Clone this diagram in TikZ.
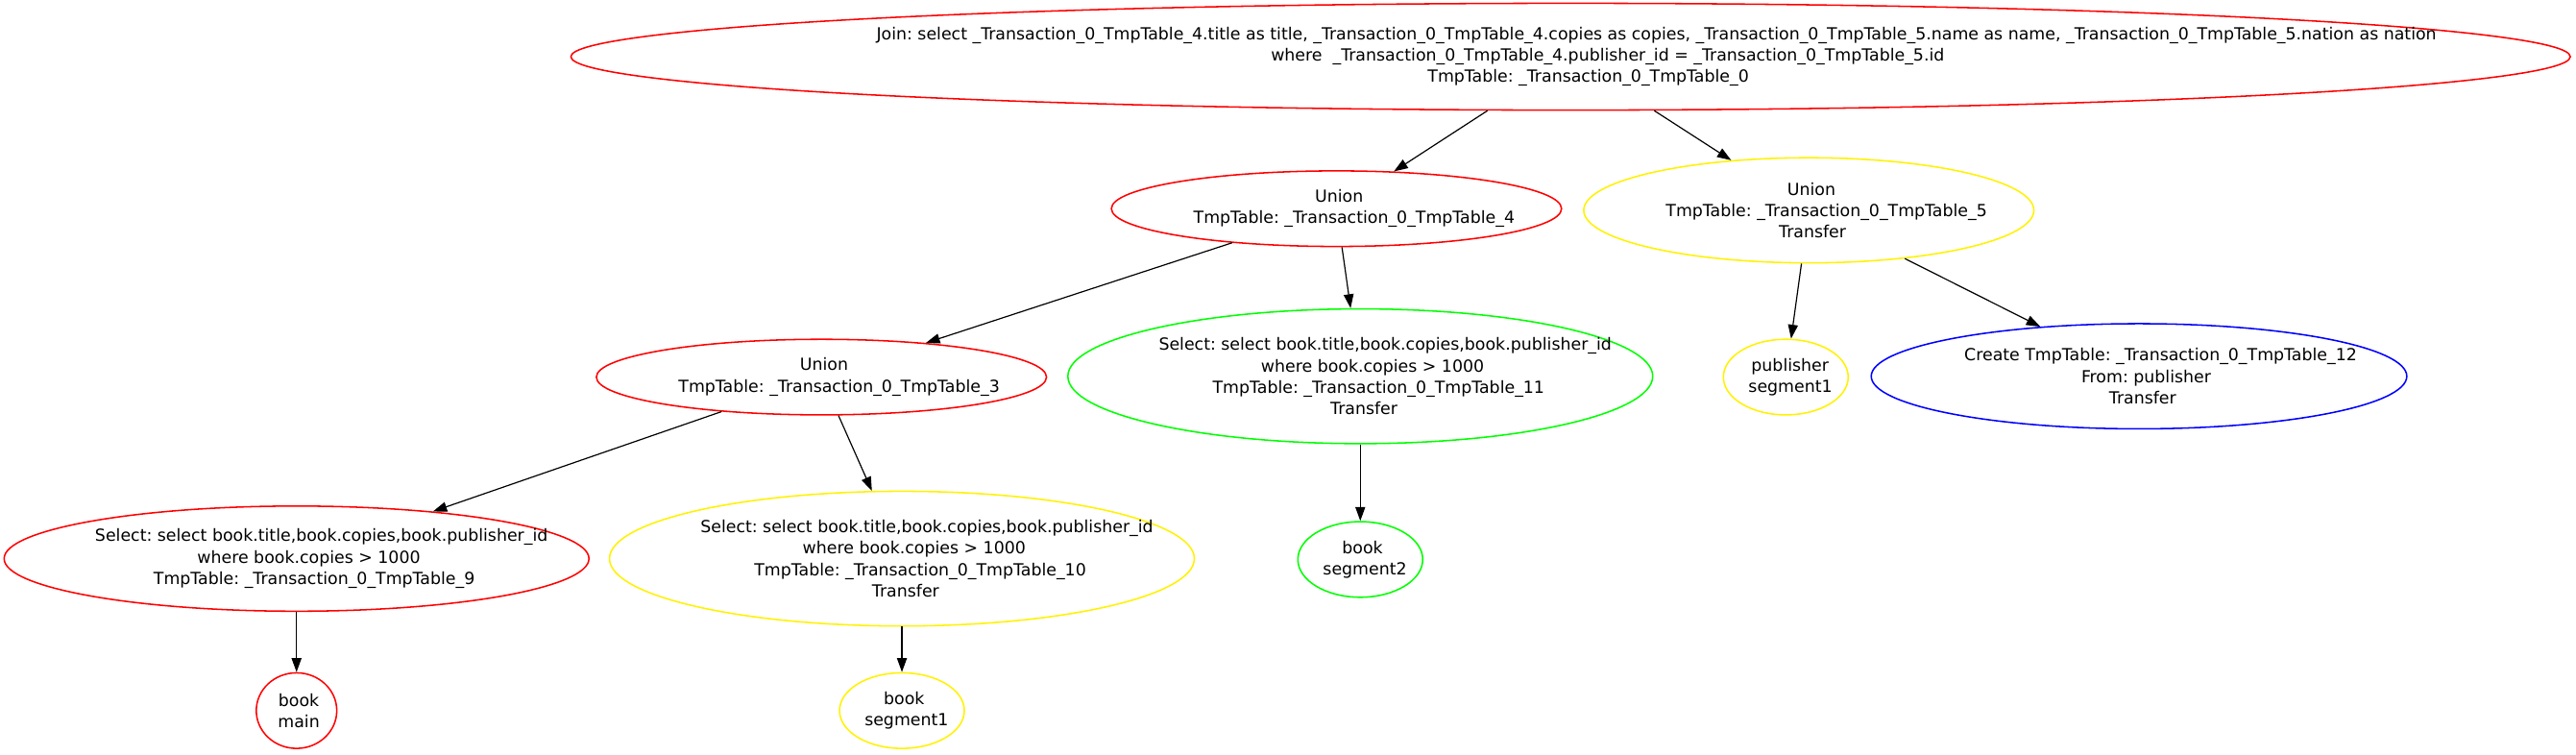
\documentclass[tikz,border=0pt]{standalone}
\usepackage{fontspec}
\setmainfont{DejaVu Sans}
\usetikzlibrary{shapes.geometric,arrows.meta}
\frenchspacing
\newcommand\gvl[1]{\setbox0\hbox{#1}\hbox to 0pt{\hss\kern0.11\wd0\box0\hss}}
\begin{document}
\begin{tikzpicture}[x=1pt,y=-1pt,
  gv/.style={ellipse,draw,line width=0.9pt,inner sep=0pt,align=center,
    font=\fontsize{10.15}{13}\selectfont\frenchspacing,text=black},
  arr/.style={-{Triangle[length=8.5pt,width=6pt]},line width=0.7pt,draw=black}]
\useasboundingbox (0,0) rectangle (1568,459);
\node[gv,draw=red,minimum width=1217pt,minimum height=65pt] (join) at (956,34.5)
  {\gvl{Join: select \_Transaction\_0\_TmpTable\_4.title as title, \_Transaction\_0\_TmpTable\_4.copies as copies, \_Transaction\_0\_TmpTable\_5.name as name, \_Transaction\_0\_TmpTable\_5.nation as nation}\\
   \gvl{where~~\_Transaction\_0\_TmpTable\_4.publisher\_id = \_Transaction\_0\_TmpTable\_5.id}\\
   \gvl{TmpTable: \_Transaction\_0\_TmpTable\_0}};
\node[gv,draw=red,minimum width=274pt,minimum height=46pt] (u4) at (813.5,127)
  {\gvl{Union}\\\gvl{TmpTable: \_Transaction\_0\_TmpTable\_4}};
\node[gv,draw=yellow,minimum width=274pt,minimum height=64pt] (u5) at (1101,128)
  {\gvl{Union}\\\gvl{TmpTable: \_Transaction\_0\_TmpTable\_5}\\\gvl{Transfer}};
\node[gv,draw=red,minimum width=274pt,minimum height=46pt] (u3) at (500,229.5)
  {\gvl{Union}\\\gvl{TmpTable: \_Transaction\_0\_TmpTable\_3}};
\node[gv,draw=green,minimum width=356pt,minimum height=82pt] (s11) at (828,229)
  {\gvl{Select: select book.title,book.copies,book.publisher\_id}\\\gvl{where book.copies > 1000}\\\gvl{TmpTable: \_Transaction\_0\_TmpTable\_11}\\\gvl{Transfer}};
\node[gv,draw=yellow,minimum width=76pt,minimum height=46pt] (pub) at (1087,229.5)
  {\gvl{publisher}\\\gvl{segment1}};
\node[gv,draw=blue,minimum width=326pt,minimum height=64pt] (c12) at (1302,229)
  {\gvl{Create TmpTable: \_Transaction\_0\_TmpTable\_12}\\\gvl{From: publisher}\\\gvl{Transfer}};
\node[gv,draw=red,minimum width=356pt,minimum height=64pt] (s9) at (180.5,340)
  {\gvl{Select: select book.title,book.copies,book.publisher\_id}\\\gvl{where book.copies > 1000}\\\gvl{TmpTable: \_Transaction\_0\_TmpTable\_9}};
\node[gv,draw=yellow,minimum width=356pt,minimum height=82pt] (s10) at (549,340)
  {\gvl{Select: select book.title,book.copies,book.publisher\_id}\\\gvl{where book.copies > 1000}\\\gvl{TmpTable: \_Transaction\_0\_TmpTable\_10}\\\gvl{Transfer}};
\node[gv,draw=green,minimum width=76pt,minimum height=46pt] (bs2) at (828,340.5)
  {\gvl{book}\\\gvl{segment2}};
\node[gv,draw=red,minimum width=49pt,minimum height=46pt] (bm) at (180.5,432.5)
  {\gvl{book}\\\gvl{main}};
\node[gv,draw=yellow,minimum width=76pt,minimum height=46pt] (bs1) at (549,432.5)
  {\gvl{book}\\\gvl{segment1}};
\draw[arr] (join) -- (u4);
\draw[arr] (join) -- (u5);
\draw[arr] (u4) -- (u3);
\draw[arr] (u4) -- (s11);
\draw[arr] (u5) -- (pub);
\draw[arr] (u5) -- (c12);
\draw[arr] (u3) -- (s9);
\draw[arr] (u3) -- (s10);
\draw[arr] (s11) -- (bs2);
\draw[arr] (s9) -- (bm);
\draw[arr] (s10) -- (bs1);
\end{tikzpicture}
\end{document}
